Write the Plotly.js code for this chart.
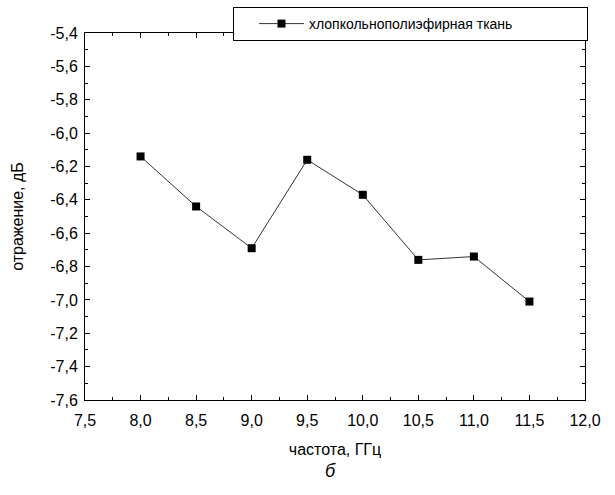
<!DOCTYPE html>
<html>
<head>
<meta charset="utf-8">
<script src="https://cdn.plot.ly/plotly-3.0.1.min.js"></script>
<style>body{margin:0;padding:0;background:#fff;}#chart{width:615px;height:495px;}</style>
</head>
<body>
<div id="chart"></div>
<script>
const seriesName = 'хлопкольнополиэфирная ткань';
const freq = [8.0, 8.5, 9.0, 9.5, 10.0, 10.5, 11.0, 11.5];
const reflection = [-6.14, -6.44, -6.69, -6.16, -6.37, -6.76, -6.74, -7.01];
const xTickVals = [7.5, 8.0, 8.5, 9.0, 9.5, 10.0, 10.5, 11.0, 11.5, 12.0];
const xTickText = ['7,5', '8,0', '8,5', '9,0', '9,5', '10,0', '10,5', '11,0', '11,5', '12,0'];
const yTickVals = [-5.4, -5.6, -5.8, -6.0, -6.2, -6.4, -6.6, -6.8, -7.0, -7.2, -7.4, -7.6];
const yTickText = ['-5,4', '-5,6', '-5,8', '-6,0', '-6,2', '-6,4', '-6,6', '-6,8', '-7,0', '-7,2', '-7,4', '-7,6'];
const xTitle = 'частота, ГГц';
const yTitle = 'отражение, дБ';
const subLabel = 'б';

const font = 'Liberation Sans, Arial, sans-serif';

const trace = {
  x: freq, y: reflection, name: seriesName,
  type: 'scatter', mode: 'lines+markers',
  line: {color: '#333', width: 1},
  marker: {symbol: 'square', size: 8, color: '#000'},
  showlegend: true
};

const axisCommon = {
  showgrid: false, zeroline: false, showline: true, linecolor: '#000', linewidth: 1,
  mirror: 'allticks', ticks: 'inside', ticklen: 5, tickcolor: '#000',
  tickfont: {family: font, size: 16, color: '#000'},
  minor: {ticks: 'inside', ticklen: 3, tickcolor: '#000', showgrid: false}
};

const layout = {
  width: 615, height: 495,
  margin: {l: 85, r: 30, t: 33, b: 95, autoexpand: false},
  paper_bgcolor: '#fff', plot_bgcolor: '#fff',
  font: {family: font, color: '#000'},
  xaxis: Object.assign({}, axisCommon, {
    range: [7.5, 12.0], tickmode: 'array', tickvals: xTickVals, ticktext: xTickText,
    ticklabelstandoff: 6,
    minor: Object.assign({}, axisCommon.minor, {dtick: 0.25, tick0: 7.5}),
    title: {text: xTitle, font: {family: font, size: 16, color: '#000'}, standoff: 15}
  }),
  yaxis: Object.assign({}, axisCommon, {
    range: [-7.6, -5.4], tickmode: 'array', tickvals: yTickVals, ticktext: yTickText,
    ticklabelstandoff: 3,
    minor: Object.assign({}, axisCommon.minor, {dtick: 0.1, tick0: -7.6}),
    title: {text: yTitle, font: {family: font, size: 16, color: '#000'}, standoff: 22}
  }),
  legend: {
    xref: 'container', yref: 'container',
    x: 233 / 615, y: 1 - 7 / 495, xanchor: 'left', yanchor: 'top',
    orientation: 'h', entrywidth: 273, itemwidth: 45, indentation: 20,
    bordercolor: '#000', borderwidth: 1, bgcolor: '#fff',
    font: {family: font, size: 14, color: '#000'}
  },
  annotations: [{
    text: subLabel, xref: 'paper', yref: 'paper', x: 0.49, y: -0.16,
    xanchor: 'center', yanchor: 'top', showarrow: false,
    font: {family: font, size: 18, color: '#000', style: 'italic'}
  }]
};

Plotly.newPlot('chart', [trace], layout, {displayModeBar: false, staticPlot: true});
</script>
</body>
</html>
